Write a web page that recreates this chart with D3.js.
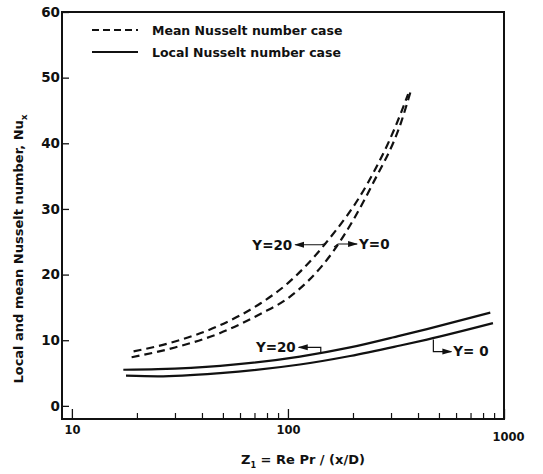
<!DOCTYPE html>
<html>
<head>
<meta charset="utf-8">
<script src="https://cdn.jsdelivr.net/npm/d3@7"></script>
<style>
  body { margin: 0; background: #fff; }
  text { font-family: "DejaVu Sans", sans-serif; fill: #111; font-weight: bold; }
</style>
</head>
<body>
<div id="chart"></div>
<script>
// values (Z1 on a log axis, Nu linear)
const meanY20Z  = [19.3, 30, 48.6, 74.5, 100, 148.8, 233.7, 314, 360];
const meanY20Nu = [8.3, 9.8, 12.3, 15.6, 18.7, 24.7, 33.9, 42.5, 47.5];
const meanY0Z   = [18.9, 30, 48.6, 74.5, 100, 162.6, 247.5, 334, 372];
const meanY0Nu  = [7.4, 8.9, 11.1, 14.0, 16.4, 23.6, 33.9, 43.2, 48.2];
const localY20Z  = [17.3, 25, 48.6, 113.6, 194, 331, 440, 864];
const localY20Nu = [5.5, 5.6, 6.1, 7.5, 8.9, 10.7, 11.7, 14.2];
const localY0Z   = [17.8, 25, 48.6, 113.6, 194, 331, 440, 889];
const localY0Nu  = [4.6, 4.5, 5.0, 6.3, 7.6, 9.2, 10.1, 12.6];

const xMajor = [10, 100, 1000];
const xMinor = [20, 30, 40, 50, 60, 70, 80, 90, 200, 300, 400, 500, 600, 700, 800, 900];
const yTicks = [0, 10, 20, 30, 40, 50, 60];
const legendLabels = ["Mean Nusselt number case", "Local Nusselt number case"];

const W = 543, H = 474;
const margin = {top: 12, right: 39, bottom: 55, left: 62};

const svg = d3.select("#chart").append("svg")
  .attr("width", W).attr("height", H);

const x = d3.scaleLog().domain([9, 1000]).range([margin.left, W - margin.right]);
const y = d3.scaleLinear().domain([-2, 60]).range([H - margin.bottom, margin.top]);

const defs = svg.append("defs");
defs.append("marker")
  .attr("id", "arrow")
  .attr("viewBox", "0 0 10 8")
  .attr("refX", 9).attr("refY", 4)
  .attr("markerWidth", 10).attr("markerHeight", 8)
  .attr("markerUnits", "userSpaceOnUse")
  .attr("orient", "auto")
  .append("path").attr("d", "M0,1 L10,4 L0,7 Z").attr("fill", "#111");

// y axis (ticks point inward)
const yAxis = svg.append("g")
  .attr("transform", "translate(" + margin.left + ",0)")
  .call(d3.axisLeft(y).tickValues(yTicks).tickSize(-7).tickPadding(2).tickFormat(d3.format("d")));
yAxis.select(".domain").remove();
yAxis.selectAll("line").attr("stroke", "#111").attr("stroke-width", 1.3);
yAxis.selectAll("text").style("font-size", "13.5px").attr("font-family", null);

// x axis: major + minor ticks pointing up
const xb = H - margin.bottom;
const xAxis = svg.append("g")
  .attr("transform", "translate(0," + xb + ")")
  .call(d3.axisBottom(x).tickValues(xMajor).tickSize(-10).tickPadding(7).tickFormat(d3.format("d")));
xAxis.select(".domain").remove();
xAxis.selectAll("line").attr("stroke", "#111").attr("stroke-width", 1.3);
xAxis.selectAll("text").style("font-size", "11.5px").attr("font-family", null);
xAxis.selectAll(".tick").filter(d => d === 1000).select("text").attr("dy", "1.3em").attr("dx", "4");

const xMin = svg.append("g")
  .attr("transform", "translate(0," + xb + ")")
  .call(d3.axisBottom(x).tickValues(xMinor).tickSize(-6).tickFormat(""));
xMin.select(".domain").remove();
xMin.selectAll("line").attr("stroke", "#111").attr("stroke-width", 1.2);

// frame
svg.append("rect")
  .attr("x", x.range()[0]).attr("y", y.range()[1])
  .attr("width", x.range()[1] - x.range()[0])
  .attr("height", y.range()[0] - y.range()[1])
  .attr("fill", "none").attr("stroke", "#111").attr("stroke-width", 2);

// curves
const line = d3.line().x(d => x(d[0])).y(d => y(d[1])).curve(d3.curveMonotoneX);
const series = [
  {z: meanY20Z, nu: meanY20Nu, dash: "8,5"},
  {z: meanY0Z, nu: meanY0Nu, dash: "8,5"},
  {z: localY20Z, nu: localY20Nu, dash: null},
  {z: localY0Z, nu: localY0Nu, dash: null}
];
svg.selectAll("path.curve").data(series).enter().append("path")
  .attr("class", "curve")
  .attr("d", s => line(d3.zip(s.z, s.nu)))
  .attr("fill", "none").attr("stroke", "#111").attr("stroke-width", 2.2)
  .attr("stroke-dasharray", s => s.dash);

// legend
const lg = svg.append("g");
legendLabels.forEach((t, i) => {
  const ly = 30 + i * 22;
  lg.append("line").attr("x1", 92).attr("x2", 138).attr("y1", ly).attr("y2", ly)
    .attr("stroke", "#111").attr("stroke-width", 2)
    .attr("stroke-dasharray", i === 0 ? "7,4" : null);
  lg.append("text").attr("x", 152).attr("y", ly).attr("dy", "0.36em")
    .style("font-size", "12.5px").text(t);
});

// annotations anchored on curve points (Z, Nu); leader in pixel offsets
function leader(pt, pts, label, side) {
  const ax = x(pt[0]), ay = y(pt[1]);
  const p = pts.map(q => [ax + q[0], ay + q[1]]);
  svg.append("path").attr("d", d3.line()(p))
    .attr("fill", "none").attr("stroke", "#111").attr("stroke-width", 1.2)
    .attr("marker-end", "url(#arrow)");
  const end = p[p.length - 1];
  svg.append("text")
    .attr("x", side === "left" ? end[0] - 3 : end[0] + 2)
    .attr("y", end[1]).attr("dy", "0.36em")
    .attr("text-anchor", side === "left" ? "end" : "start")
    .style("font-size", "13.5px").text(label);
}
leader([148.8, 24.7], [[0, 0], [-4, 1], [-30, 1]], "Y=20", "left");
leader([163.5, 24.2], [[0, 0], [4, -3], [23, -3]], "Y=0", "right");
leader([141.9, 8.0], [[0, 0], [0, -6], [-22, -6]], "Y=20", "left");
leader([471, 10.1], [[0, 0], [0, 12], [18, 12]], "Y= 0", "right");

// axis titles
const xt = svg.append("text")
  .attr("x", 303).attr("y", 464)
  .attr("text-anchor", "middle").style("font-size", "13px");
xt.append("tspan").text("Z");
xt.append("tspan").attr("dy", 4).style("font-size", "8px").text("1");
xt.append("tspan").attr("dy", -4).text(" = Re Pr / (x/D)");

const yt = svg.append("text")
  .attr("transform", "translate(23,249) rotate(-90)")
  .attr("text-anchor", "middle").style("font-size", "13px");
yt.append("tspan").text("Local and mean Nusselt number,  Nu");
yt.append("tspan").attr("dy", 4).style("font-size", "9px").text("x");
</script>
</body>
</html>
